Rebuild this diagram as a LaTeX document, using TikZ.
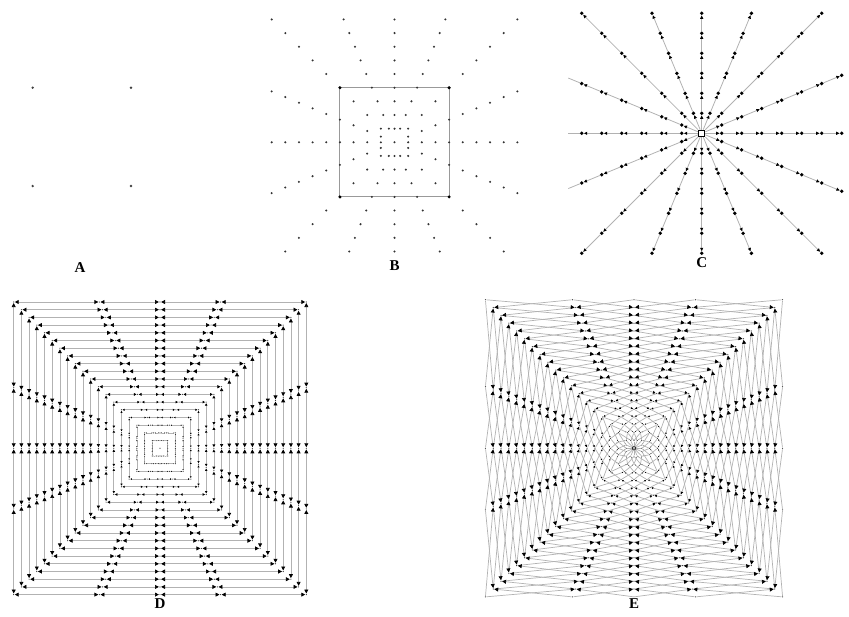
\documentclass[tikz,border=0pt]{standalone}
\usepackage{fontspec}
\setmainfont{Liberation Serif}
\usetikzlibrary{arrows.meta}
\pgfdeclarelayer{bg}
\pgfsetlayers{bg,main}
\def\raydirs{0/1/0,1/1/0.41421,2/1/1,3/0.41421/1,4/0/1,5/-0.41421/1,6/-1/1,7/-1/0.41421,8/-1/0,9/-1/-0.41421,10/-1/-1,11/-0.41421/-1,12/0/-1,13/0.41421/-1,14/1/-1,15/1/-0.41421}
\begin{document}
\begin{tikzpicture}[x=1pt,y=-1pt,
  lab/.style={font=\fontsize{15}{15}\selectfont\bfseries, inner sep=0pt},
  dotA/.style={circle,fill=black!75,inner sep=0pt,minimum size=2.6pt},
  dotB/.style={circle,fill=black!80,inner sep=0pt,minimum size=2.3pt},
  cornerB/.style={circle,fill=black,inner sep=0pt,minimum size=3.4pt},
  sqB/.style={draw=black!40,line width=1.1pt},
  rayC/.style={draw=black!30,line width=0.8pt},
  dotC/.style={circle,fill=black,inner sep=0pt,minimum size=3.8pt},
  hubC/.style={rectangle,draw=black,fill=white,line width=1.3pt,inner sep=0pt,minimum size=6pt},
  cArrow/.style={arrows={-Triangle[length=3.4pt,width=3pt,color=black]}},
  ringnode/.style={circle,fill=black!80,inner sep=0pt,minimum size=1.2pt,outer sep=0.5pt},
  edge/.style={draw=black!30,line width=0.7pt},
  dd/.style={arrows={Triangle[length=#1,width=#1,color=black]-Triangle[length=#1,width=#1,color=black]}},
  ein/.style={arrows={-Triangle[length=#1,width=#1,color=black]}},
]
\useasboundingbox (0,0) rectangle (849,616);

% ---------- A ----------
\node[dotA] (a1) at (32.7,87.7) {};
\node[dotA] (a2) at (131,87.7) {};
\node[dotA] (a3) at (32.7,186) {};
\node[dotA] (a4) at (131,186) {};
\node[lab] (labA) at (80,268) {A};

% ---------- B ----------
\node[dotB] (b-0) at (394.5,142.3) {};
\foreach \k in {1,...,9}{
  \foreach \j/\ux/\uy in \raydirs{
    \pgfmathtruncatemacro\omitB{(\k==9)&&(\uy>0.5)}
    \pgfmathtruncatemacro\isCorner{(\k==4)&&(abs(\ux)>0.5)&&(abs(\uy)>0.5)}
    \ifnum\isCorner=1 \def\bsty{cornerB}\else\def\bsty{dotB}\fi
    \ifnum\omitB=0
      \node[\bsty] (b-\k-\j) at ({394.5+13.65*\k*\ux},{142.3+13.65*\k*\uy}) {};
    \fi
  }
}
\begin{pgfonlayer}{bg}
\draw[sqB] (b-4-2.center) -- (b-4-6.center) -- (b-4-10.center) -- (b-4-14.center) -- cycle;
\end{pgfonlayer}
\node[lab] (labB) at (394.5,266) {B};

% ---------- C ----------
\node[hubC] (c-0) at (701.7,133.3) {};
\foreach \k in {1,...,6}{
  \foreach \j/\ux/\uy in \raydirs{
    \node[dotC] (c-\k-\j) at ({701.7+20*\k*\ux},{133.3+20*\k*\uy}) {};
  }
}
\foreach \j/\ux/\uy in {0/1/0,1/1/0.41421,15/1/-0.41421}{
  \node[dotC] (c-7-\j) at ({701.7+140*\ux},{133.3+140*\uy}) {};
}
\foreach \j/\ux/\uy in {7/-1/0.41421,8/-1/0,9/-1/-0.41421}{
  \coordinate (c-x-\j) at ({701.7-133.4},{133.3+133.4*\uy});
}
\begin{pgfonlayer}{bg}
\foreach \j in {0,...,15}{
  \draw[rayC,cArrow] (c-0) -- (c-1-\j);
  \foreach \k [count=\kk from 2] in {1,...,5}{
    \draw[rayC,cArrow] (c-\k-\j) -- (c-\kk-\j);
  }
}
\foreach \j in {0,1,15}{ \draw[rayC,cArrow] (c-6-\j) -- (c-7-\j); }
\foreach \j in {7,8,9}{ \draw[rayC] (c-6-\j) -- (c-x-\j); }
\end{pgfonlayer}
\node[lab] (labC) at (701.7,263) {C};

% ---------- D ----------
\node[ringnode] (d-0) at (160,448.3) {};
\foreach \k in {1,...,19}{
  \foreach \j/\ux/\uy in \raydirs{
    \node[ringnode] (d-\k-\j) at ({160+7.7*\k*\ux},{448.3+7.7*\k*\uy}) {};
  }
}
\begin{pgfonlayer}{bg}
\foreach \k in {1,...,19}{
  \pgfmathsetmacro\al{min(3.9,0.4*\k)}
  \foreach \j in {0,...,15}{
    \pgfmathtruncatemacro\jn{mod(\j+1,16)}
    \draw[edge,dd=\al pt] (d-\k-\j) -- (d-\k-\jn);
  }
}
\end{pgfonlayer}
\node[lab] (labD) at (160,604) {D};

% ---------- E ----------
\node[ringnode] (e-0) at (634,448.3) {};
\foreach \k in {1,...,19}{
  \foreach \j/\ux/\uy in \raydirs{
    \node[ringnode] (e-\k-\j) at ({634+7.82*\k*\ux},{448.3+7.82*\k*\uy}) {};
  }
}
\begin{pgfonlayer}{bg}
\foreach \j in {0,...,15}{ \draw[edge,ein=0.8pt] (e-1-\j) -- (e-0); }
\foreach \k [count=\kk from 2] in {1,...,18}{
  \pgfmathsetmacro\al{min(3.9,0.4*\k)}
  \foreach \j in {0,...,15}{
    \pgfmathtruncatemacro\jn{mod(\j+1,16)}
    \draw[edge,ein=\al pt] (e-\kk-\jn) -- (e-\k-\j);
    \draw[edge,ein=\al pt] (e-\kk-\j) -- (e-\k-\jn);
  }
}
\end{pgfonlayer}
\node[lab] (labE) at (634,604) {E};
\end{tikzpicture}
\end{document}
